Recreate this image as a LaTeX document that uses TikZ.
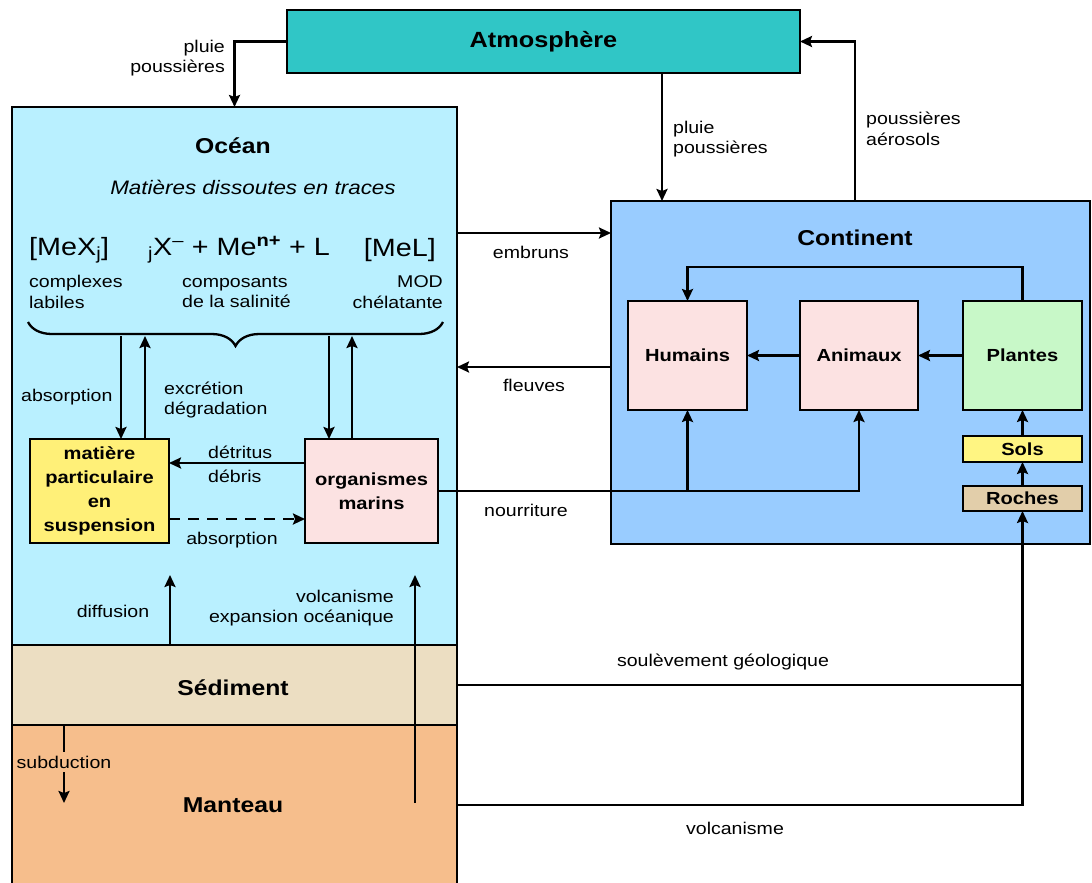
\documentclass[tikz,border=0pt]{standalone}
\usepackage{fontspec}
\setmainfont{Liberation Sans}[FakeStretch=1.15]
\usetikzlibrary{arrows.meta,decorations.pathreplacing}
\definecolor{atmoC}{RGB}{48,198,198}
\definecolor{oceanC}{RGB}{185,240,255}
\definecolor{contC}{RGB}{153,204,255}
\definecolor{sedC}{RGB}{236,222,194}
\definecolor{mantC}{RGB}{246,190,140}
\definecolor{pinkC}{RGB}{252,226,226}
\definecolor{greenC}{RGB}{200,248,200}
\definecolor{yellowC}{RGB}{255,240,120}
\definecolor{solsC}{RGB}{255,245,130}
\definecolor{rochC}{RGB}{226,206,170}
\newcommand{\fsz}[2]{\fontsize{#1}{#2}\selectfont}
\begin{document}
\begin{tikzpicture}[x=1pt,y=-1pt, line width=2.3pt, >={Stealth[length=12pt,width=11pt,inset=2pt]},
  box/.style={draw, line width=2.3pt, inner sep=0pt, outer sep=0pt, anchor=north west, align=center, font=\fsz{17.5}{24}\bfseries},
  lbl/.style={font=\fsz{17}{20.5}, inner sep=0pt},
  title/.style={font=\fsz{21.5}{26}\bfseries, inner sep=0pt},
  big/.style={font=\fsz{25}{30}, inner sep=0pt}]
\useasboundingbox (0,0) rectangle (1092,883);
\fill[white] (0,0) rectangle (1092,883);
% boxes
\node[box, fill=atmoC, minimum width=513pt, minimum height=63pt, font=\fsz{22}{26}\bfseries] (atm) at (287,10) {Atmosphère};
\node[box, fill=oceanC, minimum width=445pt, minimum height=538pt] (ocean) at (12,107) {};
\node[box, fill=sedC, minimum width=445pt, minimum height=80pt] (sed) at (12,645) {};
\node[box, fill=mantC, minimum width=445pt, minimum height=160pt] (mant) at (12,725) {};
\node[box, fill=contC, minimum width=479pt, minimum height=343pt] (cont) at (611,201) {};
\node[box, fill=pinkC, minimum width=119pt, minimum height=109pt] (hum) at (628,301) {Humains};
\node[box, fill=pinkC, minimum width=118pt, minimum height=109pt] (anim) at (800,301) {Animaux};
\node[box, fill=greenC, minimum width=119pt, minimum height=109pt] (plant) at (963,301) {Plantes};
\node[box, fill=solsC, minimum width=119pt, minimum height=26pt] (sols) at (963,436) {Sols};
\node[box, fill=rochC, minimum width=119pt, minimum height=25pt] (roch) at (963,486) {Roches};
\node[box, fill=yellowC, minimum width=139pt, minimum height=104pt] (mat) at (30,439) {matière\\particulaire\\en\\suspension};
\node[box, fill=pinkC, minimum width=133pt, minimum height=104pt] (org) at (305,439) {organismes\\marins};
% brace
\draw[decorate, decoration={brace, mirror, amplitude=24pt}, line width=2.3pt] (28,322) -- (443,322);
% coordinates
\coordinate (b1) at (121,336);
\coordinate (b2) at (145,336);
\coordinate (b3) at (329,336);
\coordinate (b4) at (352,336);
\coordinate (yd) at (0,463);
\coordinate (ya) at (0,519);
\coordinate (dtop) at (170,575);
\coordinate (vbot) at (415,803);
\coordinate (vtop) at (415,575);
\coordinate (sbot) at (64,803);
\coordinate (xa) at (662,0);
\coordinate (xb) at (855,0);
\coordinate (ye) at (0,233);
\coordinate (yf) at (0,367);
\coordinate (yl) at (0,267);
% ocean arrows
\draw[->] (b1) -- (b1 |- mat.north);
\draw[->] (b2 |- mat.north) -- (b2);
\draw[->] (b3) -- (b3 |- org.north);
\draw[->] (b4 |- org.north) -- (b4);
\draw[->] (org.west |- yd) -- (mat.east |- yd);
\draw[->, dash pattern=on 11pt off 8pt] (mat.east |- ya) -- (org.west |- ya);
\draw[->] (dtop |- sed.north) -- (dtop);
\draw[->] (vbot) -- (vtop);
\draw[->] (sbot |- mant.north) -- (sbot);
% global arrows
\draw[->] (atm.west) -| (ocean.north);
\draw[->] (atm.south -| xa) -- (cont.north -| xa);
\draw[->] (cont.north -| xb) |- (atm.east);
\draw[->] (ocean.east |- ye) -- (cont.west |- ye);
\draw[->] (cont.west |- yf) -- (ocean.east |- yf);
\draw[->] (org.east) -| (anim.south);
\draw[->] (hum.south |- org.east) -- (hum.south);
\draw[->] (plant.north) -- (plant.north |- yl) -| (hum.north);
\draw[->] (plant.west) -- (anim.east);
\draw[->] (anim.west) -- (hum.east);
\draw[->] (sols.north) -- (plant.south);
\draw[->] (roch.north) -- (sols.south);
\draw (sed.east) -- (sed.east -| roch.south);
\draw[->] (mant.east) -| (roch.south);
% labels
\node[lbl, anchor=east, align=right] (l1) at (226,58) {pluie\\poussières};
\node[lbl, anchor=west, align=left] (l2) at (672,139) {pluie\\poussières};
\node[lbl, anchor=west, align=left] (l3) at (865,129) {poussières\\aérosols};
\node[lbl] (l4) at (531,252) {embruns};
\node[lbl] (l5) at (534,385) {fleuves};
\node[lbl] (l6) at (526,510) {nourriture};
\node[lbl] (l7) at (723,662) {soulèvement géologique};
\node[lbl] (l8) at (735,828) {volcanisme};
\node[title] (tC) at (855,238) {Continent};
\node[title] (tO) at (233,146) {Océan};
\node[font=\fsz{19.5}{23}\itshape, inner sep=0pt] (tM) at (253,187) {Matières dissoutes en traces};
\node[big, anchor=west] (f1) at (28,250) {[MeX\textsubscript{j}]};
\node[big, anchor=west] (f2) at (147,250) {\textsubscript{j}X\textsuperscript{–} + Me\textsuperscript{\bfseries n+} + L};
\node[big, anchor=east] (f3) at (437,250) {[MeL]};
\node[lbl, anchor=west, align=left] (c1) at (28,292) {complexes\\labiles};
\node[lbl, anchor=west, align=left] (c2) at (181,292) {composants\\de la salinité};
\node[lbl, anchor=east, align=right] (c3) at (444,292) {MOD\\chélatante};
\node[lbl, anchor=west] (a1) at (20,397) {absorption};
\node[lbl, anchor=west, align=left] (a2) at (163,400) {excrétion\\dégradation};
\node[lbl, anchor=west] (a3) at (207,452) {détritus};
\node[lbl, anchor=west] (a4) at (207,476) {débris};
\node[lbl] (a5) at (232,540) {absorption};
\node[lbl] (a6) at (113,611) {diffusion};
\node[lbl, anchor=east, align=right] (a7) at (395,608) {volcanisme\\expansion océanique};
\node[title] (tS) at (233,688) {Sédiment};
\node[title] (tMa) at (233,805) {Manteau};
\node[lbl, fill=mantC, inner ysep=4pt] (sub) at (64,762) {subduction};
\end{tikzpicture}
\end{document}
